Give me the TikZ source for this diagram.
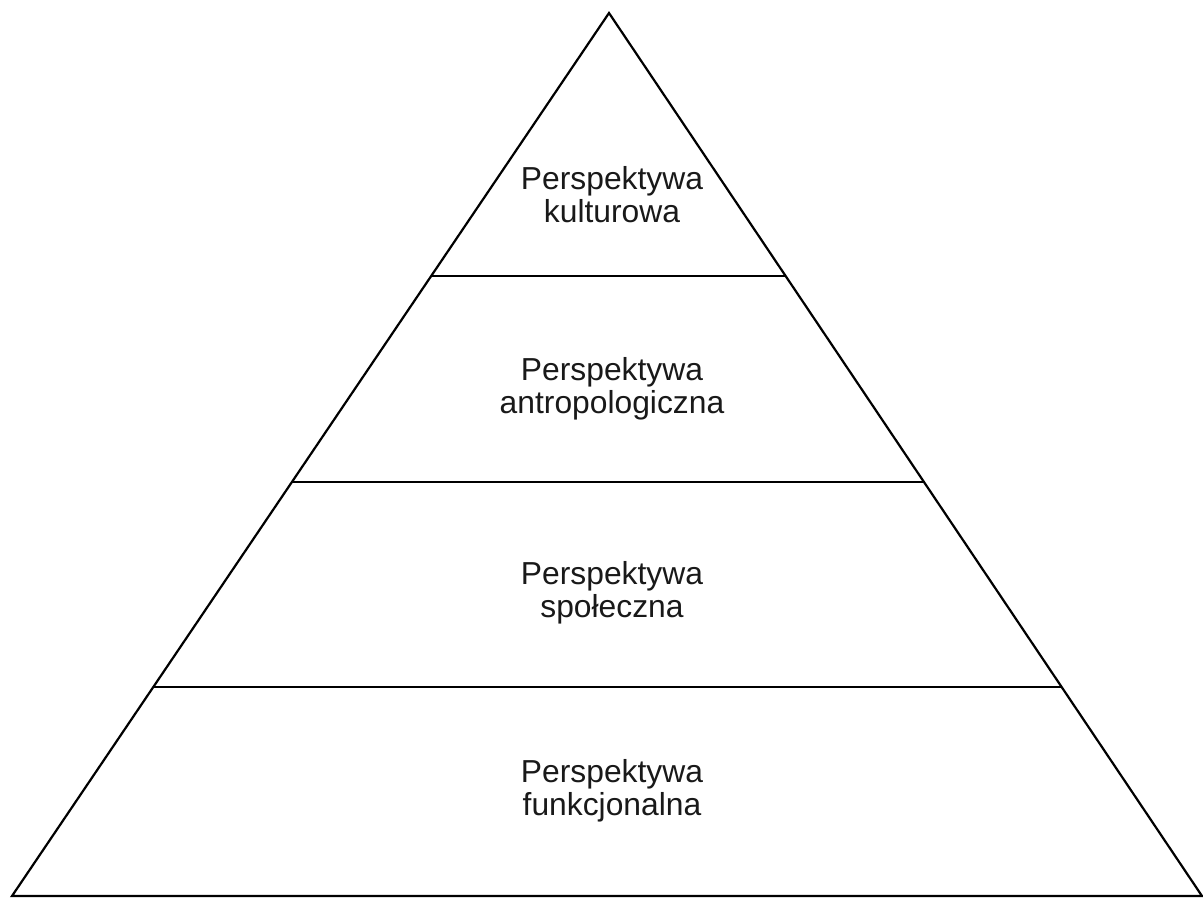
\documentclass[tikz,border=0pt]{standalone}
\usepackage{fontspec}
\setmainfont{Liberation Sans}
\usetikzlibrary{calc}

\begin{document}
\begin{tikzpicture}
[x=1pt,y=-1pt,
  lineDecorate/.style={-,line width=2.2pt,line join=miter},%
  nodeDecorate/.style={align=center,inner sep=0pt,text=black!90,
    font=\fontsize{31.8}{33}\selectfont}]
\useasboundingbox (0,0) rectangle (1203,898);
%% corners of the pyramid
\coordinate (top) at (609,13);
\coordinate (left) at (12,896);
\coordinate (right) at (1202,896);
\draw[lineDecorate] (top) -- (left) -- (right) -- cycle;
%% layer borders
\foreach \name/\t in {a/0.2978, b/0.5311, c/0.7633}
{
  \coordinate (\name l) at ($(top)!\t!(left)$);
  \coordinate (\name r) at ($(top)!\t!(right)$);
  \draw[lineDecorate] (\name l) -- (\name r);
}
%% layer labels
\foreach \nodename/\y/\word in {
  kult/195/kulturowa,
  antr/389/antropologiczna,
  spol/593/społeczna,
  funk/791/funkcjonalna}
{
  \node (\nodename) at (612,\y) [nodeDecorate] {Perspektywa\\\word};
}
\end{tikzpicture}
\end{document}
